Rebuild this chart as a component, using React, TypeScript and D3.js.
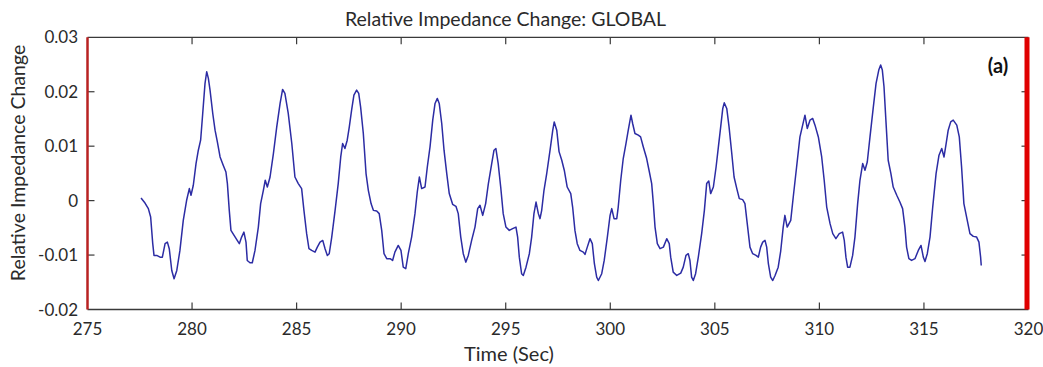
import React from "react";
import * as d3 from "d3";

// Global relative impedance change over time (EIT recording)
const timeSec: number[] = [
  277.56, 277.75, 277.91, 278.02, 278.12, 278.18, 278.31, 278.47, 278.58, 278.71,
  278.82, 278.91, 279.03, 279.14, 279.27, 279.42, 279.58, 279.74, 279.87, 279.95,
  280.06, 280.19, 280.30, 280.41, 280.51, 280.62, 280.70, 280.78, 280.86, 280.99,
  281.10, 281.21, 281.34, 281.49, 281.62, 281.69, 281.78, 281.86, 282.01, 282.16,
  282.26, 282.37, 282.48, 282.58, 282.64, 282.77, 282.88, 283.01, 283.17, 283.28,
  283.41, 283.50, 283.60, 283.73, 283.89, 284.05, 284.21, 284.33, 284.44, 284.60,
  284.77, 284.92, 285.08, 285.24, 285.35, 285.48, 285.59, 285.72, 285.88, 285.99,
  286.12, 286.25, 286.36, 286.47, 286.56, 286.68, 286.84, 286.99, 287.11, 287.20,
  287.31, 287.42, 287.52, 287.63, 287.74, 287.87, 287.97, 288.06, 288.19, 288.32,
  288.43, 288.56, 288.67, 288.83, 288.95, 289.07, 289.18, 289.31, 289.47, 289.59,
  289.70, 289.86, 289.99, 290.10, 290.22, 290.34, 290.50, 290.66, 290.77, 290.87,
  290.98, 291.14, 291.25, 291.38, 291.51, 291.62, 291.73, 291.82, 291.94, 292.05,
  292.18, 292.30, 292.46, 292.62, 292.73, 292.85, 292.97, 293.09, 293.21, 293.37,
  293.53, 293.66, 293.77, 293.90, 294.04, 294.17, 294.33, 294.44, 294.53, 294.64,
  294.76, 294.88, 295.01, 295.17, 295.33, 295.49, 295.57, 295.65, 295.76, 295.84,
  295.97, 296.13, 296.24, 296.35, 296.45, 296.56, 296.64, 296.72, 296.83, 296.96,
  297.12, 297.25, 297.32, 297.44, 297.55, 297.68, 297.80, 297.94, 298.11, 298.20,
  298.31, 298.42, 298.55, 298.71, 298.79, 298.90, 299.03, 299.14, 299.24, 299.35,
  299.43, 299.59, 299.71, 299.86, 299.99, 300.07, 300.18, 300.31, 300.38, 300.50,
  300.62, 300.75, 300.86, 300.99, 301.07, 301.18, 301.34, 301.45, 301.58, 301.74,
  301.87, 301.98, 302.06, 302.14, 302.25, 302.38, 302.54, 302.70, 302.82, 302.89,
  303.01, 303.18, 303.37, 303.49, 303.62, 303.73, 303.81, 303.89, 303.97, 304.08,
  304.21, 304.37, 304.50, 304.61, 304.71, 304.80, 304.93, 305.06, 305.17, 305.28,
  305.38, 305.45, 305.57, 305.68, 305.81, 305.92, 306.05, 306.17, 306.33, 306.44,
  306.55, 306.68, 306.81, 306.97, 307.08, 307.19, 307.29, 307.40, 307.48, 307.56,
  307.67, 307.77, 307.88, 308.03, 308.15, 308.27, 308.35, 308.46, 308.63, 308.75,
  308.91, 309.07, 309.20, 309.31, 309.42, 309.55, 309.68, 309.79, 309.95, 310.11,
  310.23, 310.35, 310.51, 310.64, 310.79, 310.95, 311.11, 311.19, 311.27, 311.35,
  311.46, 311.59, 311.70, 311.83, 311.94, 312.07, 312.18, 312.29, 312.42, 312.58,
  312.71, 312.84, 312.93, 313.01, 313.09, 313.18, 313.29, 313.42, 313.53, 313.70,
  313.85, 313.98, 314.09, 314.17, 314.28, 314.41, 314.57, 314.73, 314.86, 314.97,
  315.05, 315.16, 315.29, 315.42, 315.58, 315.72, 315.85, 315.96, 316.05, 316.16,
  316.28, 316.40, 316.57, 316.69, 316.80, 316.91, 317.04, 317.20, 317.36, 317.52,
  317.63, 317.71, 317.74,
];

// Relative impedance change, in thousandths (x 1e-3)
const impedanceMilli: number[] = [
  0.48, -0.44, -1.47, -3.02, -7.91, -10.07, -10.07, -10.38, -10.38, -7.91,
  -7.62, -8.83, -12.83, -14.35, -12.83, -9.15, -3.63, 0.06, 2.21, 0.98,
  2.82, 6.81, 9.26, 11.10, 16.01, 21.53, 23.67, 22.45, 20.30, 16.01,
  12.94, 10.78, 8.02, 6.50, 5.26, 3.13, -1.79, -5.47, -6.39, -7.31,
  -7.91, -6.70, -5.78, -7.62, -10.99, -11.41, -11.41, -9.15, -4.86, -0.55,
  1.90, 3.74, 2.50, 4.34, 8.65, 13.54, 17.85, 20.43, 19.69, 16.01,
  10.49, 4.34, 3.13, 2.21, -1.79, -6.07, -8.83, -9.15, -9.46, -8.54,
  -7.62, -7.31, -8.83, -10.07, -9.75, -6.70, -1.79, 3.13, 8.02, 10.49,
  9.57, 11.10, 13.54, 16.62, 19.38, 20.30, 19.69, 17.22, 12.33, 4.97,
  1.90, -0.55, -1.79, -1.91, -2.39, -5.47, -9.75, -10.67, -10.67, -10.99,
  -9.46, -8.23, -9.15, -12.22, -12.51, -9.75, -6.70, -2.39, 1.58, 4.34,
  2.21, 2.50, 6.18, 9.86, 14.78, 17.85, 18.77, 17.85, 14.17, 9.26,
  4.97, 1.29, -0.68, -1.05, -2.39, -6.70, -9.75, -11.30, -10.07, -7.31,
  -4.86, -1.47, -0.86, -2.71, -0.55, 3.13, 6.81, 9.26, 9.57, 6.81,
  2.50, -2.39, -4.86, -5.47, -5.15, -4.86, -6.70, -10.38, -13.43, -13.75,
  -12.22, -9.75, -6.70, -2.39, -0.26, -2.39, -3.31, -1.79, 1.90, 4.97,
  9.26, 12.94, 14.46, 12.94, 9.0, 7.42, 5.58, 2.50, 1.29, -1.18,
  -5.47, -7.91, -9.15, -9.46, -9.88, -8.54, -6.99, -7.91, -11.59, -14.06,
  -14.67, -13.43, -10.99, -6.70, -2.71, -1.47, -3.31, -3.31, -1.18, 3.74,
  7.73, 10.49, 12.94, 15.70, 14.17, 12.33, 12.02, 11.70, 9.86, 7.73,
  5.26, 3.13, -0.55, -4.86, -7.91, -8.83, -8.54, -6.99, -7.91, -10.38,
  -13.14, -13.75, -13.32, -12.22, -10.07, -9.75, -10.99, -14.06, -14.67, -13.43,
  -10.38, -6.07, -1.79, 3.13, 3.61, 1.29, 2.50, 6.18, 9.86, 13.54,
  16.93, 17.96, 16.93, 13.54, 8.65, 4.34, 2.21, 0.37, 0.18, -0.55,
  -4.23, -8.54, -9.75, -10.07, -10.38, -8.54, -7.62, -7.31, -8.54, -11.59,
  -14.06, -14.67, -13.75, -12.22, -9.26, -4.86, -2.71, -4.86, -3.63, 0.66,
  6.18, 11.70, 13.86, 15.70, 13.25, 14.78, 15.09, 13.86, 11.70, 8.02,
  3.74, -1.18, -4.23, -6.07, -6.99, -6.07, -5.78, -7.31, -10.38, -12.22,
  -12.22, -10.07, -6.70, -0.55, 3.74, 6.81, 5.58, 7.10, 11.70, 17.22,
  21.53, 23.98, 24.90, 23.98, 20.91, 14.78, 7.42, 4.97, 2.50, 0.98,
  -0.26, -1.47, -4.86, -8.54, -10.67, -10.99, -10.67, -9.15, -8.23, -10.38,
  -11.17, -9.75, -6.70, -1.18, 4.97, 8.34, 9.57, 8.02, 10.18, 12.94,
  14.46, 14.78, 13.86, 11.70, 6.18, -0.55, -3.02, -6.07, -6.57, -6.70,
  -7.62, -10.38, -11.91,
];

const xTicks: number[] = [275, 280, 285, 290, 295, 300, 305, 310, 315, 320];
const yTicks: number[] = [-0.02, -0.01, 0, 0.01, 0.02, 0.03];
const yTickLabels: string[] = ["-0.02", "-0.01", "0", "0.01", "0.02", "0.03"];

const W = 1043;
const H = 367;
const left = 87.5;
const right = 1028.5;
const top = 37.3;
const bottom = 309.5;

const FONT = "Lato, 'Open Sans', sans-serif";
const TEXT = "#2a2a2a";
const AXIS = "#3a3a3a";
const TICK = 7;

export default function App() {
  const x = d3.scaleLinear().domain([275, 320]).range([left, right]);
  const y = d3.scaleLinear().domain([-0.02, 0.03]).range([bottom, top]);

  const points: [number, number][] = timeSec.map((t, i) => [t, impedanceMilli[i] / 1000]);
  const line = d3
    .line<[number, number]>()
    .x((d) => x(d[0]))
    .y((d) => y(d[1]));

  return (
    <svg
      width={W}
      height={H}
      style={{ position: "absolute", left: 0, top: 0, background: "#fff" }}
      fontFamily={FONT}
    >
      <rect x={0} y={0} width={W} height={H} fill="#fff" />

      {/* title */}
      <text x={505.5} y={26} textAnchor="middle" fontSize={19.5} fill={TEXT}>
        Relative Impedance Change: GLOBAL
      </text>

      {/* frame */}
      <line x1={left} x2={right} y1={top} y2={top} stroke={AXIS} strokeWidth={1.3} />
      <line x1={left} x2={right} y1={bottom} y2={bottom} stroke={AXIS} strokeWidth={1.3} />

      {/* x ticks (inward, top and bottom) */}
      {xTicks.map((t) => (
        <g key={`xt${t}`}>
          {t > 275 && t < 320 && (
            <>
              <line x1={x(t)} x2={x(t)} y1={bottom} y2={bottom - TICK} stroke={AXIS} strokeWidth={1.2} />
              <line x1={x(t)} x2={x(t)} y1={top} y2={top + TICK} stroke={AXIS} strokeWidth={1.2} />
            </>
          )}
          <text x={x(t)} y={335} textAnchor="middle" fontSize={17} fill={TEXT}>
            {t}
          </text>
        </g>
      ))}

      {/* y ticks (inward, left and right) */}
      {yTicks.map((v, i) => (
        <g key={`yt${i}`}>
          {i > 0 && i < yTicks.length - 1 && (
            <>
              <line x1={left} x2={left + TICK} y1={y(v)} y2={y(v)} stroke={AXIS} strokeWidth={1.2} />
              <line x1={right} x2={right - TICK} y1={y(v)} y2={y(v)} stroke={AXIS} strokeWidth={1.2} />
            </>
          )}
          <text x={78} y={y(v) + 6} textAnchor="end" fontSize={17} fill={TEXT}>
            {yTickLabels[i]}
          </text>
        </g>
      ))}

      {/* side bars */}
      <line x1={left} x2={left} y1={top} y2={bottom} stroke="#b82222" strokeWidth={2.5} />
      <line x1={right - 1.5} x2={right - 1.5} y1={top} y2={bottom} stroke="#e00000" strokeWidth={5} />

      {/* signal */}
      <path d={line(points) ?? ""} fill="none" stroke="#2c2ca4" strokeWidth={1.5} strokeLinejoin="round" />

      {/* panel label */}
      <text x={998} y={73} textAnchor="middle" fontSize={20} fontWeight="bold" fill="#111">
        (a)
      </text>

      {/* axis labels */}
      <text x={509} y={361} textAnchor="middle" fontSize={20} fill={TEXT}>
        Time (Sec)
      </text>
      <text
        transform={`translate(25, 163) rotate(-90)`}
        textAnchor="middle"
        fontSize={19.5}
        fill={TEXT}
      >
        Relative Impedance Change
      </text>
    </svg>
  );
}
